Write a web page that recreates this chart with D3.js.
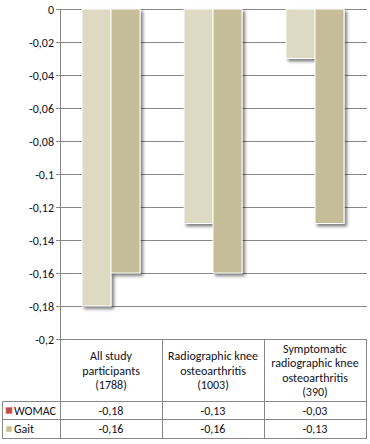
<!DOCTYPE html>
<html><head><meta charset="utf-8">
<script src="https://cdn.jsdelivr.net/npm/d3@7"></script>
<style>html,body{margin:0;padding:0;background:#fff;}svg{display:block;}</style>
</head><body>
<script>
const categories = ["All study participants (1788)", "Radiographic knee osteoarthritis (1003)", "Symptomatic radiographic knee osteoarthritis (390)"];
const categoryLines = [["All study","participants","(1788)"],["Radiographic knee","osteoarthritis","(1003)"],["Symptomatic","radiographic knee","osteoarthritis","(390)"]];
const seriesNames = ["WOMAC", "Gait"];
const womac = [-0.18, -0.13, -0.03];
const gait = [-0.16, -0.16, -0.13];
const yTicks = [0, -0.02, -0.04, -0.06, -0.08, -0.1, -0.12, -0.14, -0.16, -0.18, -0.2];
const barColors = ["#DDD9C3", "#C4BD97"];
const legendColors = ["#B9504B", "#C4BD97"];

const W = 370, H = 444;
const font = "Carlito, Lato, 'Open Sans', sans-serif";
const textColor = "#111122";
const gridColor = "#888888";

const svg = d3.select("body").append("svg").attr("width", W).attr("height", H)
  .style("font-family", font).style("font-size", "12px");

const defs = svg.append("defs");
const flt = defs.append("filter").attr("id","sh").attr("x","-20%").attr("y","-20%").attr("width","150%").attr("height","150%");
flt.append("feDropShadow").attr("dx",2.5).attr("dy",2.5).attr("stdDeviation",1.5).attr("flood-color","#000").attr("flood-opacity",0.5);

const plotLeft = 60, plotRight = 366, plotTop = 9, plotBottom = 339;
const y = d3.scaleLinear().domain([-0.2, 0]).range([plotBottom, plotTop]);
const x0 = d3.scaleBand().domain(categories).range([plotLeft, plotRight]).paddingInner(0.431).paddingOuter(0.2155);
const x1 = d3.scaleBand().domain(seriesNames).range([0, x0.bandwidth()]);

const fmt = v => { if (v === 0) return "0"; let s = (+v.toFixed(2)).toString(); return s.replace(".", ","); };

// gridlines
svg.append("g").selectAll("line").data(yTicks).join("line")
  .attr("x1", plotLeft - 4).attr("x2", plotRight + 1)
  .attr("y1", d => Math.round(y(d)) + 0.5).attr("y2", d => Math.round(y(d)) + 0.5)
  .attr("stroke", gridColor).attr("stroke-width", 1);

// y labels
svg.append("g").selectAll("text").data(yTicks).join("text")
  .attr("x", plotLeft - 6).attr("y", d => Math.round(y(d)) + 0.5).attr("dy", "0.35em")
  .attr("text-anchor", "end").attr("fill", textColor).text(fmt);

// bars
const data = categories.map((c, i) => ({cat: c, vals: [womac[i], gait[i]]}));
const g = svg.append("g");
data.forEach(d => {
  seriesNames.forEach((s, j) => {
    g.append("rect")
      .attr("x", x0(d.cat) + x1(s))
      .attr("y", y(0))
      .attr("width", x1.bandwidth())
      .attr("height", y(d.vals[j]) - y(0))
      .attr("fill", barColors[j])
      .attr("stroke", "#fff").attr("stroke-width", 1)
      .attr("filter", "url(#sh)");
  });
});

// vertical axis line
svg.append("line").attr("x1", plotLeft + 0.5).attr("x2", plotLeft + 0.5).attr("y1", plotTop).attr("y2", 438.5)
  .attr("stroke", gridColor);

// table
const rowTop = 339.5, headBottom = 401.5, row1Bottom = 419.5, tableBottom = 438.5, legLeft = 2.5;
const tg = svg.append("g").attr("stroke", gridColor).attr("fill", "none");
const edges = categories.map((c, i) => plotLeft + i * x0.step());
edges.push(plotLeft + categories.length * x0.step());
const rightEdge = Math.round(edges[edges.length-1]) + 0.5;
edges.forEach(e => tg.append("line").attr("x1", Math.round(e) + 0.5).attr("x2", Math.round(e) + 0.5).attr("y1", rowTop).attr("y2", tableBottom));
[headBottom, row1Bottom, tableBottom].forEach(yy => tg.append("line").attr("x1", legLeft).attr("x2", rightEdge + 0.5).attr("y1", yy).attr("y2", yy));
tg.append("line").attr("x1", legLeft).attr("x2", legLeft).attr("y1", headBottom).attr("y2", tableBottom);

// header text
const lh = 14.5;
categoryLines.forEach((lines, i) => {
  const cx = x0(categories[i]) + x0.bandwidth() / 2;
  const cy = (rowTop + headBottom) / 2;
  const t = svg.append("text").attr("text-anchor", "middle").attr("fill", textColor);
  lines.forEach((ln, k) => {
    t.append("tspan").attr("x", cx).attr("y", cy + (k - (lines.length - 1) / 2) * lh).attr("dy", "0.35em").text(ln);
  });
});

// rows
const rows = [womac, gait];
const rowCenters = [(headBottom + row1Bottom) / 2, (row1Bottom + tableBottom) / 2];
rows.forEach((vals, r) => {
  vals.forEach((v, i) => {
    svg.append("text").attr("x", x0(categories[i]) + x0.bandwidth() / 2).attr("y", rowCenters[r]).attr("dy", "0.35em")
      .attr("text-anchor", "middle").attr("fill", textColor).text(fmt(v));
  });
  svg.append("rect").attr("x", 6).attr("y", rowCenters[r] - 3).attr("width", 6).attr("height", 6)
    .attr("fill", legendColors[r]).attr("stroke", d3.color(legendColors[r]).brighter(0.8)).attr("stroke-width", 0.6);
  svg.append("text").attr("x", 14).attr("y", rowCenters[r]).attr("dy", "0.35em").attr("fill", textColor)
    .style("font-size", "12px").text(seriesNames[r]);
});
</script>
</body></html>
